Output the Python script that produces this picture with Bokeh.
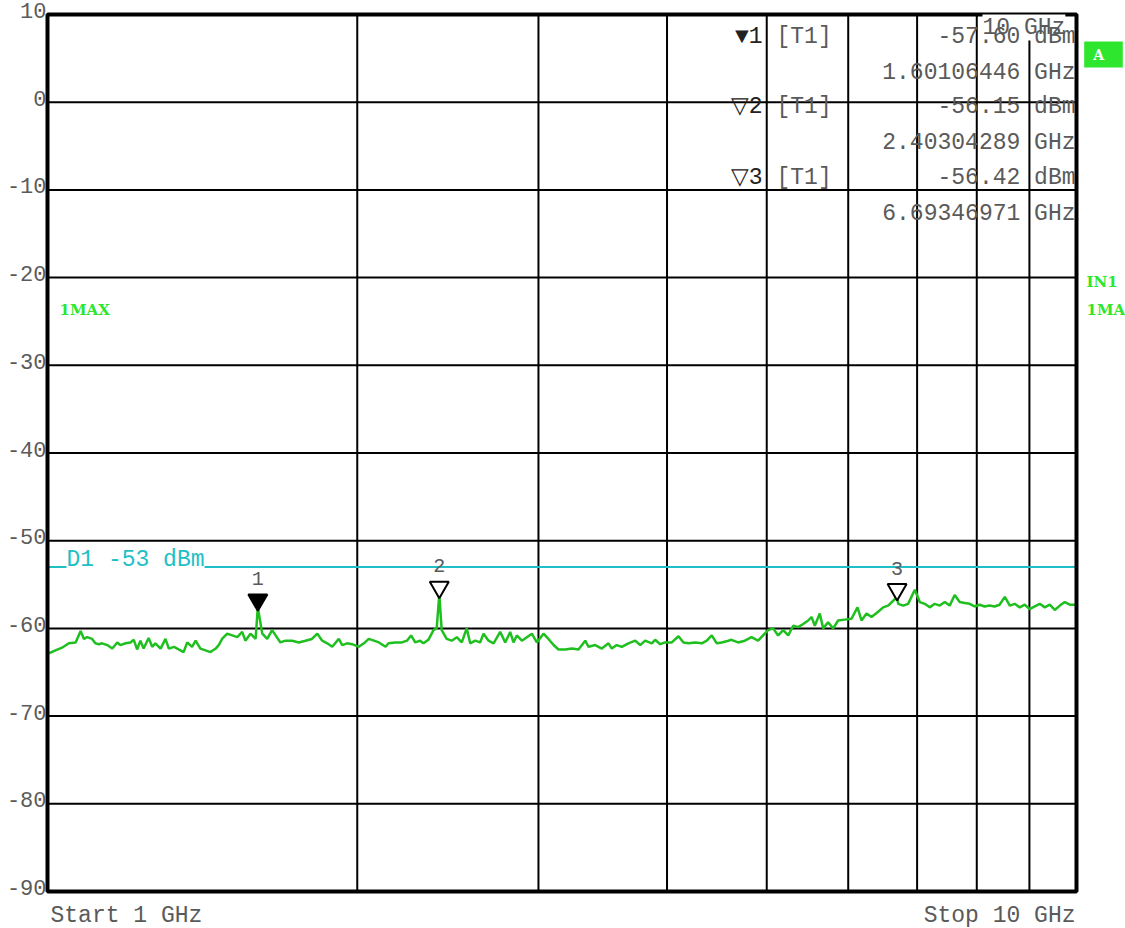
import math
from bokeh.plotting import figure
from bokeh.models import Label, ColumnDataSource, Range1d
from bokeh.embed import file_html
from bokeh.resources import INLINE

# ---- data -------------------------------------------------------------
y_ticks = [10, 0, -10, -20, -30, -40, -50, -60, -70, -80, -90]
x_grid_ghz = [2, 3, 4, 5, 6, 7, 8, 9]
start_ghz, stop_ghz = 1, 10
ref_top_dbm, ref_bottom_dbm = 10, -90
display_line_dbm = -53

marker_ids = [1, 2, 3]
marker_ghz = [1.60106446, 2.40304289, 6.69346971]
marker_dbm = [-57.60, -56.15, -56.42]

trace_ghz = [
    1.000, 1.018, 1.033, 1.049, 1.065, 1.077, 1.085, 1.093, 1.105, 1.113,
    1.122, 1.130, 1.143, 1.156, 1.169, 1.177, 1.191, 1.204, 1.213, 1.222,
    1.231, 1.240, 1.254, 1.264, 1.273, 1.288, 1.302, 1.312, 1.327, 1.341,
    1.356, 1.367, 1.382, 1.393, 1.408, 1.424, 1.440, 1.457, 1.467, 1.478,
    1.495, 1.512, 1.529, 1.546, 1.557, 1.575, 1.593, 1.601, 1.617, 1.635,
    1.653, 1.666, 1.684, 1.703, 1.729, 1.755, 1.781, 1.807, 1.829, 1.849,
    1.870, 1.891, 1.919, 1.934, 1.955, 1.977, 2.007, 2.030, 2.052, 2.076,
    2.099, 2.131, 2.145, 2.177, 2.210, 2.235, 2.256, 2.277, 2.302, 2.319,
    2.345, 2.372, 2.389, 2.403, 2.416, 2.443, 2.471, 2.499, 2.527, 2.555,
    2.575, 2.604, 2.633, 2.653, 2.683, 2.713, 2.754, 2.785, 2.816, 2.837,
    2.858, 2.891, 2.923, 2.956, 2.989, 3.034, 3.068, 3.103, 3.138, 3.185,
    3.233, 3.281, 3.331, 3.356, 3.406, 3.457, 3.509, 3.535, 3.574, 3.615,
    3.669, 3.725, 3.767, 3.809, 3.866, 3.895, 3.939, 3.983, 4.043, 4.104,
    4.150, 4.197, 4.260, 4.324, 4.372, 4.421, 4.471, 4.521, 4.589, 4.620,
    4.690, 4.761, 4.832, 4.904, 4.959, 5.015, 5.072, 5.129, 5.188, 5.246,
    5.305, 5.365, 5.425, 5.486, 5.527, 5.568, 5.630, 5.673, 5.736, 5.801,
    5.866, 5.954, 6.044, 6.126, 6.181, 6.251, 6.321, 6.416, 6.488, 6.561,
    6.693, 6.710, 6.785, 6.861, 6.964, 7.042, 7.121, 7.201, 7.282, 7.364,
    7.447, 7.530, 7.614, 7.700, 7.786, 7.873, 7.962, 8.051, 8.141, 8.233,
    8.325, 8.418, 8.518, 8.614, 8.710, 8.808, 8.907, 9.006, 9.108, 9.211,
    9.315, 9.419, 9.526, 9.634, 9.741, 9.851, 9.961, 10.000,
]
trace_dbm = [
    -62.9, -62.5, -62.2, -61.7, -61.6, -60.3, -61.2, -61.0, -61.2, -61.7,
    -61.8, -61.7, -61.9, -62.3, -61.6, -61.9, -61.7, -61.6, -61.3, -62.4,
    -61.4, -62.3, -61.1, -62.1, -61.7, -62.3, -61.2, -62.3, -62.1, -62.4,
    -62.7, -61.6, -62.1, -61.4, -62.3, -62.5, -62.7, -62.3, -61.9, -61.2,
    -60.6, -60.8, -61.0, -60.4, -61.4, -60.6, -61.2, -57.60, -60.6, -61.2,
    -60.2, -60.8, -61.6, -61.4, -61.4, -61.6, -61.4, -61.2, -60.6, -61.4,
    -61.7, -62.1, -61.2, -61.9, -61.7, -61.8, -62.1, -61.7, -61.2, -61.4,
    -61.6, -62.1, -61.7, -61.6, -61.6, -61.4, -60.8, -61.6, -61.4, -61.7,
    -61.3, -60.2, -60.0, -56.15, -60.2, -61.2, -61.4, -61.0, -61.6, -60.0,
    -61.7, -61.4, -61.6, -60.6, -61.4, -61.7, -60.4, -61.6, -60.4, -61.6,
    -60.8, -61.4, -61.0, -60.6, -61.6, -60.6, -61.2, -61.9, -62.4, -62.4,
    -62.3, -62.4, -61.4, -62.1, -61.9, -62.3, -61.7, -62.3, -61.9, -62.1,
    -61.7, -61.4, -61.9, -61.4, -61.7, -61.3, -61.8, -61.6, -61.6, -60.9,
    -61.6, -61.7, -61.6, -61.7, -61.4, -60.8, -61.7, -61.6, -61.4, -61.3,
    -61.6, -61.4, -61.0, -61.4, -60.8, -60.2, -60.0, -60.8, -60.2, -60.8,
    -59.7, -59.85, -59.5, -59.1, -58.7, -59.7, -58.3, -60.0, -59.3, -60.0,
    -59.1, -59.0, -58.9, -57.6, -59.1, -58.3, -58.7, -58.1, -57.6, -57.4,
    -56.42, -57.2, -57.4, -57.2, -55.6, -57.0, -57.2, -57.6, -57.2, -57.4,
    -57.0, -57.4, -56.2, -57.0, -57.1, -57.2, -57.5, -57.3, -57.5, -57.4,
    -57.5, -57.3, -56.4, -57.4, -57.2, -57.6, -57.3, -57.8, -57.5, -57.2,
    -57.6, -57.3, -57.9, -57.4, -57.0, -57.3, -57.3, -57.3,
]

# ---- screen layout --------------------------------------------------------
W, H = 1125, 928
PL, PR, PT, PB = 47, 1076, 14, 891          # diagram box inside the canvas (px)
MONO = "Liberation Mono"
FS = "23px"
TXT = "#5a5a5a"
TRACE = "#1fbf1f"
CYAN = "#1ec0c6"
LIME = "#2ee62e"

# the frame spans the whole canvas; extend the ranges so the diagram box
# lands at PL..PR / PT..PB
dec = math.log10(stop_ghz) - math.log10(start_ghz)
px_per_dec = (PR - PL) / dec
x_lo = 10 ** (math.log10(start_ghz) - PL / px_per_dec)
x_hi = 10 ** (math.log10(stop_ghz) + (W - PR) / px_per_dec)
db_per_px = (ref_top_dbm - ref_bottom_dbm) / (PB - PT)
y_hi = ref_top_dbm + PT * db_per_px
y_lo = ref_bottom_dbm - (H - PB) * db_per_px

p = figure(width=W, height=H, x_axis_type="log",
           x_range=Range1d(x_lo, x_hi), y_range=Range1d(y_lo, y_hi),
           x_axis_location=None, y_axis_location=None,
           toolbar_location=None, output_backend="svg",
           min_border=0)
p.background_fill_color = "white"
p.border_fill_color = "white"
p.outline_line_color = None
p.xgrid.visible = False
p.ygrid.visible = False


def sx(px):
    return px


def sy(py):
    return H - py


# graticule
inner_levels = y_ticks[1:-1]
p.segment(x0=x_grid_ghz, x1=x_grid_ghz,
          y0=[ref_bottom_dbm] * len(x_grid_ghz), y1=[ref_top_dbm] * len(x_grid_ghz),
          line_color="black", line_width=2)
p.segment(x0=[start_ghz] * len(inner_levels), x1=[stop_ghz] * len(inner_levels),
          y0=inner_levels, y1=inner_levels, line_color="black", line_width=2)

# level labels
for v in y_ticks:
    p.add_layout(Label(x=sx(PL - 1), x_units="screen", y=v, text=str(v),
                       text_align="right", text_baseline="alphabetic", y_offset=4,
                       text_font=MONO, text_font_size="22px", text_color=TXT))

# display line
p.segment(x0=[start_ghz], x1=[stop_ghz], y0=[display_line_dbm], y1=[display_line_dbm],
          line_color=CYAN, line_width=2)
p.add_layout(Label(x=sx(66), x_units="screen", y=display_line_dbm,
                   text=f"D1 {display_line_dbm} dBm", text_align="left",
                   text_baseline="bottom", y_offset=-6,
                   background_fill_color="white",
                   text_font=MONO, text_font_size=FS, text_color=CYAN))

# trace
p.line(trace_ghz, trace_dbm, line_color=TRACE, line_width=2.5)

# markers
msrc = ColumnDataSource(dict(
    x=marker_ghz,
    y=[v + 0.85 for v in marker_dbm],
    fill=["black", "white", "white"],
))
p.scatter("x", "y", source=msrc, marker="inverted_triangle", size=19,
          fill_color="fill", line_color="black", line_width=2)
for mid, f, v in zip(marker_ids, marker_ghz, marker_dbm):
    p.add_layout(Label(x=f, y=v, text=str(mid), text_align="center",
                       text_baseline="middle", y_offset=29,
                       text_font=MONO, text_font_size="20px", text_color=TXT))

# diagram border
p.quad(left=[start_ghz], right=[stop_ghz], bottom=[ref_bottom_dbm], top=[ref_top_dbm],
       fill_alpha=0, line_color="black", line_width=4)

# stop-frequency tag at top right
p.add_layout(Label(x=sx(982), x_units="screen", y=sy(27), y_units="screen",
                   text=f"{stop_ghz} GHz", text_align="left", text_baseline="middle",
                   background_fill_color="white",
                   text_font=MONO, text_font_size=FS, text_color=TXT))

# marker table
row_y = [36, 106, 177]
for i, (mid, f, v) in enumerate(zip(marker_ids, marker_ghz, marker_dbm)):
    sym = "\u25BC" if i == 0 else "\u25BD"
    y1 = sy(row_y[i])
    y2 = sy(row_y[i] + 36)
    p.add_layout(Label(x=sx(762), x_units="screen", y=y1, y_units="screen",
                       text=f"{sym}{mid}", text_align="right", text_baseline="middle",
                       text_font=MONO, text_font_size=FS, text_color="#222222"))
    p.add_layout(Label(x=sx(776), x_units="screen", y=y1, y_units="screen",
                       text="[T1]", text_align="left", text_baseline="middle",
                       text_font=MONO, text_font_size=FS, text_color=TXT))
    p.add_layout(Label(x=sx(1075), x_units="screen", y=y1, y_units="screen",
                       text=f"{v:.2f} dBm", text_align="right", text_baseline="middle",
                       text_font=MONO, text_font_size=FS, text_color=TXT))
    p.add_layout(Label(x=sx(1075), x_units="screen", y=y2, y_units="screen",
                       text=f"{f:.8f} GHz", text_align="right", text_baseline="middle",
                       text_font=MONO, text_font_size=FS, text_color=TXT))

# trace / detector tags
for tx, ty, t in [(59, 309, "1MAX"), (1086, 281, "IN1"), (1086, 309, "1MA")]:
    p.add_layout(Label(x=sx(tx), x_units="screen", y=sy(ty), y_units="screen",
                       text=t, text_align="left", text_baseline="middle",
                       text_font="DejaVu Serif", text_font_style="bold",
                       text_font_size="15px", text_color=LIME))

# screen "A" badge
p.add_layout(Label(x=sx(1103), x_units="screen", y=sy(54), y_units="screen",
                   text=" A ", text_align="center", text_baseline="middle",
                   background_fill_color=LIME, padding=(9, 5),
                   text_font="DejaVu Serif", text_font_style="bold",
                   text_font_size="14px", text_color="white"))

# sweep span
p.add_layout(Label(x=sx(50), x_units="screen", y=sy(915), y_units="screen",
                   text=f"Start {start_ghz} GHz", text_align="left", text_baseline="middle",
                   text_font=MONO, text_font_size=FS, text_color=TXT))
p.add_layout(Label(x=sx(1075), x_units="screen", y=sy(915), y_units="screen",
                   text=f"Stop {stop_ghz} GHz", text_align="right", text_baseline="middle",
                   text_font=MONO, text_font_size=FS, text_color=TXT))

open("out.html", "w").write(file_html(p, INLINE))
